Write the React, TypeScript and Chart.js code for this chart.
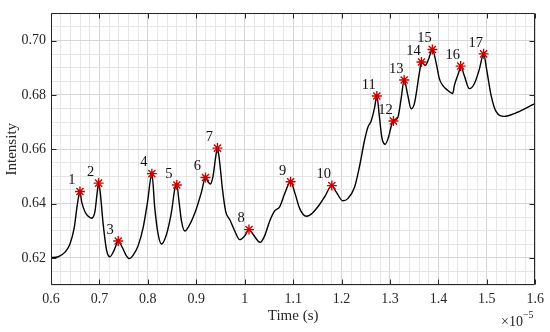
import React, { useEffect, useRef } from "react";
import { Chart, registerables } from "chart.js";

Chart.register(...registerables);

// Time axis values are in units of 1e-5 s
const timeX = [
  0.6, 0.615, 0.6289, 0.6392, 0.648, 0.6542, 0.6598, 0.6633, 0.6701, 0.6769, 0.6839, 0.6907, 0.6955, 0.6983,
  0.7016, 0.7078, 0.7148, 0.7216, 0.7285, 0.7355, 0.7388, 0.747, 0.7561, 0.7614, 0.7697, 0.78, 0.7903, 0.7994,
  0.8083, 0.8144, 0.8212, 0.8282, 0.8386, 0.8489, 0.8557, 0.8598, 0.8645, 0.8695, 0.8763, 0.8866, 0.9004,
  0.9107, 0.919, 0.9243, 0.9293, 0.9346, 0.9402, 0.9437, 0.9485, 0.954, 0.9608, 0.9691, 0.9794, 0.9897, 1.0,
  1.0089, 1.0171, 1.032, 1.0412, 1.0515, 1.0619, 1.0722, 1.0825, 1.0948, 1.1031, 1.1134, 1.1272, 1.1375,
  1.1511, 1.1649, 1.18, 1.1891, 1.2027, 1.213, 1.2268, 1.2371, 1.2474, 1.2542, 1.2612, 1.268, 1.2728, 1.2784,
  1.2831, 1.2901, 1.2969, 1.3037, 1.3072, 1.3161, 1.3231, 1.3293, 1.3367, 1.3437, 1.3505, 1.3608, 1.365,
  1.3732, 1.3794, 1.3876, 1.3953, 1.4021, 1.4089, 1.4192, 1.4295, 1.433, 1.4419, 1.446, 1.4536, 1.4639,
  1.4742, 1.4845, 1.4934, 1.4996, 1.5087, 1.519, 1.5361, 1.5602, 1.5808, 1.6,
];
const intensityY = [
  0.6201, 0.6204, 0.6221, 0.6251, 0.6311, 0.6394, 0.6444, 0.6406, 0.637, 0.6353, 0.6346, 0.637, 0.6442, 0.6475,
  0.6442, 0.6323, 0.6228, 0.6204, 0.6221, 0.6251, 0.6262, 0.6239, 0.6206, 0.6197, 0.621, 0.6245, 0.6311, 0.6406,
  0.651, 0.6382, 0.6287, 0.6251, 0.6287, 0.637, 0.6454, 0.6468, 0.6406, 0.6335, 0.6299, 0.6323, 0.6382,
  0.6442, 0.6496, 0.648, 0.6472, 0.6501, 0.6573, 0.6604, 0.6549, 0.6454, 0.637, 0.6341, 0.6299, 0.6267, 0.6281,
  0.6304, 0.6287, 0.6257, 0.6281, 0.6335, 0.6373, 0.6388, 0.6436, 0.648, 0.6442, 0.6382, 0.6353, 0.6361,
  0.6388, 0.6424, 0.6466, 0.6442, 0.641, 0.6418, 0.646, 0.6537, 0.6632, 0.668, 0.6704, 0.6751, 0.6796, 0.6716,
  0.6644, 0.6618, 0.6644, 0.6692, 0.6704, 0.6716, 0.6787, 0.6855, 0.6799, 0.6749, 0.6769, 0.6882, 0.6921,
  0.6909, 0.693, 0.6967, 0.6918, 0.6859, 0.6835, 0.6817, 0.6805, 0.6835, 0.6882, 0.6906, 0.687, 0.6823,
  0.6841, 0.6894, 0.6951, 0.6894, 0.6799, 0.6739, 0.6721, 0.6734, 0.6751, 0.6769,
];

const peakX = [
  0.6598, 0.6983, 0.7388, 0.8083, 0.8598, 0.919, 0.9437, 1.0089, 1.0948, 1.18, 1.2728, 1.3072, 1.3293, 1.365,
  1.3876, 1.446, 1.4934,
];
const peakY = [
  0.6444, 0.6475, 0.6262, 0.651, 0.6468, 0.6496, 0.6604, 0.6304, 0.648, 0.6466, 0.6796, 0.6704, 0.6855, 0.6921,
  0.6967, 0.6906, 0.6951,
];
const peakLabels = ["1", "2", "3", "4", "5", "6", "7", "8", "9", "10", "11", "12", "13", "14", "15", "16", "17"];

const xTitle = "Time (s)";
const yTitle = "Intensity";
const FONT = '"Liberation Serif", "Times New Roman", serif';
const AXIS_COLOR = "#262626";

const isMultiple = (v: number, step: number) => Math.abs(v / step - Math.round(v / step)) < 1e-6;

const decorPlugin = {
  id: "decor",
  afterDraw(chart: any) {
    const { ctx, chartArea } = chart;
    const { left, right, top, bottom } = chartArea;
    const xs = chart.scales.x;
    const ys = chart.scales.y;
    ctx.save();
    ctx.strokeStyle = AXIS_COLOR;
    ctx.lineWidth = 1;
    const L = Math.round(left) + 0.5;
    const R = Math.round(right) - 0.5;
    const T = Math.round(top) + 0.5;
    const B = Math.round(bottom) - 0.5;
    ctx.beginPath();
    ctx.rect(L, T, R - L, B - T);
    ctx.stroke();
    ctx.beginPath();
    xs.ticks.forEach((t: any) => {
      if (!isMultiple(t.value, 0.1)) return;
      const px = Math.round(xs.getPixelForValue(t.value)) + 0.5;
      ctx.moveTo(px, B);
      ctx.lineTo(px, B - 5);
      ctx.moveTo(px, T);
      ctx.lineTo(px, T + 5);
    });
    ys.ticks.forEach((t: any) => {
      if (!isMultiple(t.value, 0.02)) return;
      const py = Math.round(ys.getPixelForValue(t.value)) + 0.5;
      ctx.moveTo(L, py);
      ctx.lineTo(L + 5, py);
      ctx.moveTo(R, py);
      ctx.lineTo(R - 5, py);
    });
    ctx.stroke();

    ctx.fillStyle = AXIS_COLOR;
    ctx.font = `15px ${FONT}`;
    ctx.textAlign = "center";
    ctx.textBaseline = "middle";
    ctx.fillText(xTitle, (left + right) / 2, 316);
    ctx.save();
    ctx.translate(12, (top + bottom) / 2);
    ctx.rotate(-Math.PI / 2);
    ctx.fillText(yTitle, 0, 0);
    ctx.restore();

    ctx.textAlign = "left";
    ctx.textBaseline = "alphabetic";
    ctx.font = `14px ${FONT}`;
    ctx.fillText("\u00d710", 501, 326);
    const w = ctx.measureText("\u00d710").width;
    ctx.font = `10px ${FONT}`;
    ctx.fillText("\u22125", 501 + w, 318);

    ctx.fillStyle = "#111";
    ctx.font = `14.5px ${FONT}`;
    ctx.textAlign = "center";
    ctx.textBaseline = "middle";
    peakX.forEach((v, i) => {
      const px = xs.getPixelForValue(v);
      const py = ys.getPixelForValue(peakY[i]);
      ctx.fillText(peakLabels[i], px - 8, py - 11);
    });
    ctx.restore();
  },
};

export default function App() {
  const ref = useRef<HTMLCanvasElement | null>(null);
  useEffect(() => {
    if (!ref.current) return;
    const chart = new Chart(ref.current, {
      type: "line",
      data: {
        datasets: [
          {
            type: "line",
            data: timeX.map((x, i) => ({ x, y: intensityY[i] })),
            borderColor: "#000",
            borderWidth: 1.4,
            pointRadius: 0,
            cubicInterpolationMode: "monotone",
            fill: false,
            order: 2,
          },
          {
            type: "scatter",
            data: peakX.map((x, i) => ({ x, y: peakY[i] })),
            pointStyle: "star",
            pointRadius: 5,
            borderColor: "#cc0000",
            backgroundColor: "#cc0000",
            borderWidth: 1.4,
            showLine: false,
            order: 1,
          },
        ] as any,
      },
      options: {
        animation: false,
        responsive: false,
        maintainAspectRatio: false,
        layout: { padding: { top: 6, right: 14, left: 0, bottom: 0 } },
        plugins: { legend: { display: false }, tooltip: { enabled: false } },
        scales: {
          x: {
            type: "linear",
            min: 0.6,
            max: 1.6,
            border: { display: false },
            grid: {
              drawTicks: false,
              color: (c: any) => (c.tick && isMultiple(c.tick.value, 0.1) ? "#d6d6d6" : "#e6e6e6"),
              lineWidth: 1,
            },
            ticks: {
              stepSize: 0.02,
              autoSkip: false,
              maxRotation: 0,
              padding: 6,
              color: AXIS_COLOR,
              font: { family: FONT, size: 14 },
              callback: (v: any) => (isMultiple(v, 0.1) ? String(Math.round(v * 10) / 10) : ""),
            },
            afterFit: (s: any) => {
              s.height = 47;
            },
          },
          y: {
            type: "linear",
            min: 0.61,
            max: 0.71,
            border: { display: false },
            grid: {
              drawTicks: false,
              color: (c: any) => (c.tick && isMultiple(c.tick.value, 0.02) ? "#d6d6d6" : "#e6e6e6"),
              lineWidth: 1,
            },
            ticks: {
              stepSize: 0.005,
              autoSkip: false,
              padding: 5,
              color: AXIS_COLOR,
              font: { family: FONT, size: 14 },
              callback: (v: any) => (isMultiple(v, 0.02) ? Number(v).toFixed(2) : ""),
            },
            afterFit: (s: any) => {
              s.width = 51;
            },
          },
        },
      } as any,
      plugins: [decorPlugin],
    });
    return () => chart.destroy();
  }, []);
  return (
    <div style={{ position: "fixed", left: 0, top: 0, width: 550, height: 332, background: "#fff" }}>
      <canvas ref={ref} width={550} height={332} style={{ width: 550, height: 332 }} />
    </div>
  );
}
